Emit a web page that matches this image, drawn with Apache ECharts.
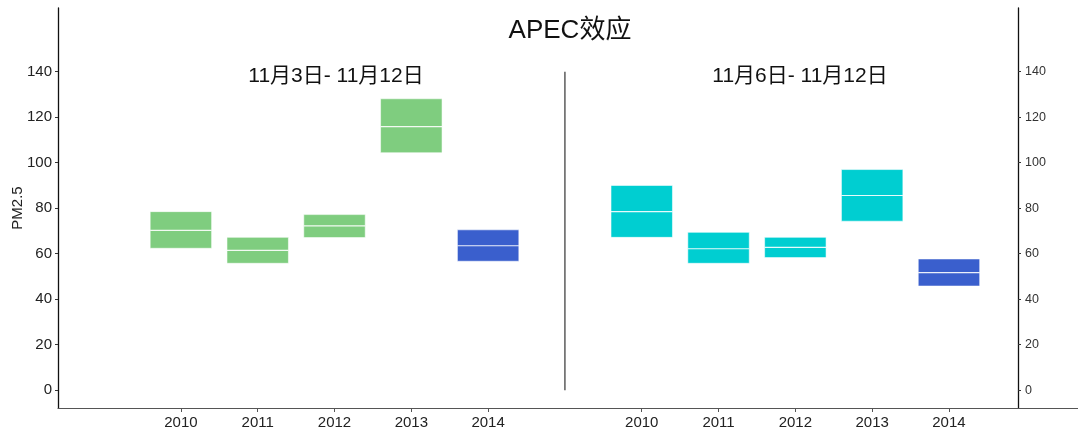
<!DOCTYPE html>
<html>
<head>
<meta charset="utf-8">
<script src="https://cdn.jsdelivr.net/npm/echarts@6/dist/echarts.min.js"></script>
<style>
  html, body { margin: 0; padding: 0; background: #fff; }
  #chart { width: 1078px; height: 430px; }
</style>
</head>
<body>
<div id="chart"></div>
<script>
// 数据
const years = ['2010', '2011', '2012', '2013', '2014']
const yTicks = [0, 20, 40, 60, 80, 100, 120, 140]

// 11月3日 - 11月12日
const posA = [1, 2, 3, 4, 5]
const lowA = [62.4, 55.8, 67.1, 104.4, 56.7]
const midA = [70.3, 61.5, 72.2, 115.9, 63.5]
const highA = [78.5, 67.2, 77.2, 128.1, 70.5]

// 11月6日 - 11月12日
const posB = [7, 8, 9, 10, 11]
const lowB = [67.2, 55.8, 58.3, 74.3, 45.8]
const midB = [78.5, 62.2, 62.8, 85.6, 51.7]
const highB = [90.0, 69.4, 67.2, 97.0, 57.7]

// 分隔线位置
const dividerX = 6

const font = "'Liberation Sans', 'Noto Sans CJK SC', sans-serif"
const green = '#7fcd7f'
const cyan = '#00ced1'
const blue = '#3a5fcd'

// x轴标签
const xLabelMap = {}
posA.forEach((p, i) => { xLabelMap[p] = years[i] })
posB.forEach((p, i) => { xLabelMap[p] = years[i] })
const xTickValues = posA.concat(posB)

function boxData(pos, low, mid, high, color) {
  return pos.map((p, i) => ({
    value: [p, low[i], mid[i], high[i]],
    itemStyle: { color: years[i] === '2014' ? blue : color },
  }))
}

function renderBox(params, api) {
  const x = api.value(0)
  const p0 = api.coord([x - 0.4, api.value(3)])
  const p1 = api.coord([x + 0.4, api.value(1)])
  const pm = api.coord([x, api.value(2)])
  const color = api.visual('color')
  return {
    type: 'group',
    children: [
      {
        type: 'rect',
        shape: { x: p0[0], y: p0[1], width: p1[0] - p0[0], height: p1[1] - p0[1] },
        style: { fill: color, stroke: 'rgba(255,255,255,0.55)', lineWidth: 1 },
      },
      {
        type: 'line',
        shape: { x1: p0[0], y1: pm[1], x2: p1[0], y2: pm[1] },
        style: { stroke: 'rgba(255,255,255,0.9)', lineWidth: 1.2 },
      },
    ],
  }
}

const myChart = echarts.init(document.getElementById('chart'))

myChart.setOption({
  animation: false,
  textStyle: { fontFamily: font },
  title: [
    {
      text: 'APEC效应',
      left: 565,
      top: 13,
      textAlign: 'center',
      textStyle: { fontSize: 26, fontWeight: 'normal', color: '#111', fontFamily: font },
    },
    {
      text: '11月3日- 11月12日',
      left: 331,
      top: 61,
      textAlign: 'center',
      textStyle: { fontSize: 21, fontWeight: 'normal', color: '#111', fontFamily: font },
    },
    {
      text: '11月6日- 11月12日',
      left: 795,
      top: 61,
      textAlign: 'center',
      textStyle: { fontSize: 21, fontWeight: 'normal', color: '#111', fontFamily: font },
    },
  ],
  grid: {
    left: 58,
    right: 0,
    top: 8,
    bottom: 22,
    containLabel: false,
    outerBoundsMode: 'none',
  },
  xAxis: {
    type: 'value',
    min: -0.6,
    max: 12.68,
    splitLine: { show: false },
    axisLine: { show: true, onZero: false, lineStyle: { color: '#555', width: 1.2 } },
    axisTick: { show: true, length: 4, customValues: xTickValues, lineStyle: { color: '#555' } },
    axisLabel: {
      customValues: xTickValues,
      margin: 7,
      fontSize: 15,
      color: '#222',
      formatter: (v) => xLabelMap[v] || '',
    },
  },
  yAxis: [
    {
      type: 'value',
      position: 'left',
      min: -7.8,
      max: 168,
      name: 'PM2.5',
      nameLocation: 'middle',
      nameGap: 33,
      nameMoveOverlap: false,
      nameTextStyle: { fontSize: 15, color: '#222', fontFamily: font },
      splitLine: { show: false },
      axisLine: { show: true, onZero: false, lineStyle: { color: '#111', width: 1.3 } },
      axisTick: { show: true, length: 3, customValues: yTicks, lineStyle: { color: '#333' } },
      axisLabel: { customValues: yTicks, margin: 6, fontSize: 15, color: '#222' },
    },
    {
      type: 'value',
      position: 'right',
      offset: -60,
      min: -7.8,
      max: 168,
      splitLine: { show: false },
      axisLine: { show: true, onZero: false, lineStyle: { color: '#111', width: 1.3 } },
      axisTick: { show: true, length: 3, customValues: yTicks, lineStyle: { color: '#333' } },
      axisLabel: { customValues: yTicks, margin: 7, fontSize: 12.5, color: '#333' },
    },
  ],
  series: [
    {
      type: 'custom',
      name: '11月3日- 11月12日',
      renderItem: renderBox,
      encode: { x: 0, y: [1, 2, 3] },
      itemStyle: { color: green },
      data: boxData(posA, lowA, midA, highA, green),
    },
    {
      type: 'custom',
      name: '11月6日- 11月12日',
      renderItem: renderBox,
      encode: { x: 0, y: [1, 2, 3] },
      itemStyle: { color: cyan },
      data: boxData(posB, lowB, midB, highB, cyan),
    },
    {
      type: 'line',
      symbol: 'none',
      lineStyle: { color: '#333', width: 1.2 },
      data: [[dividerX, 0], [dividerX, 140]],
    },
  ],
})
</script>
</body>
</html>
